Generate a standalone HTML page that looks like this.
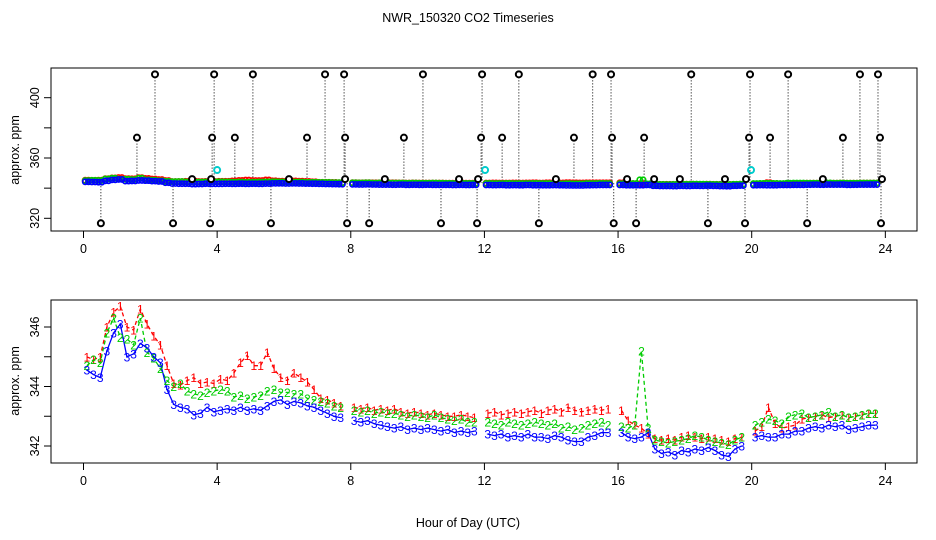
<!DOCTYPE html>
<html><head><meta charset="utf-8">
<style>
html,body{margin:0;padding:0;background:#fff;}
svg{display:block;font-family:"Liberation Sans",sans-serif;}
</style></head>
<body>
<svg id="chart" width="936" height="540" viewBox="0 0 936 540" xmlns="http://www.w3.org/2000/svg">
<text x="468" y="22" font-size="12.5" text-anchor="middle">NWR_150320  CO2 Timeseries</text>
<rect x="51" y="68" width="866" height="163" fill="none" stroke="#000" stroke-width="1"/>
<rect x="51" y="300" width="866" height="163" fill="none" stroke="#000" stroke-width="1"/>
<text transform="translate(19,150) rotate(-90)" font-size="12.5" text-anchor="middle">approx. ppm</text>
<text transform="translate(19,381) rotate(-90)" font-size="12.5" text-anchor="middle">approx. ppm</text>
<text x="468" y="527" font-size="12.5" text-anchor="middle">Hour of Day (UTC)</text>
<g id="topAxes"></g>
<g id="botAxes"></g>
<g id="topMarks"></g>
<g id="botMarks"></g>
</svg>
<script>
const xTicks = [0,4,8,12,16,20,24];
const topYTicks = [320,340,360,380,400];
const topYLabels = ["320","","360","","400"];
const botYTicks = [342,343,344,345,346];
const botYLabels = ["342","","344","","346"];
const t0 = 0.1, dt = 0.2;
const s3 = [344.55,344.4,344.3,345.2,345.8,346.1,345.0,345.1,345.45,345.3,345.0,344.8,343.9,343.4,343.3,343.25,343.05,343.1,343.3,343.15,343.2,343.25,343.2,343.3,343.2,343.25,343.2,343.35,343.5,343.55,343.4,343.5,343.45,343.35,343.3,343.2,343.1,343.0,342.95,null,342.85,342.8,342.85,342.75,342.7,342.65,342.6,342.65,342.55,342.6,342.55,342.6,342.55,342.5,342.55,342.45,342.5,342.45,342.5,null,342.4,342.35,342.4,342.3,342.35,342.3,342.4,342.3,342.3,342.25,342.35,342.3,342.2,342.15,342.15,342.3,342.35,342.45,342.45,null,342.45,342.3,342.25,342.3,342.45,341.9,341.75,341.8,341.7,341.85,341.8,341.9,341.85,341.95,341.85,341.7,341.65,341.9,342.0,null,342.3,342.35,342.3,342.3,342.4,342.4,342.5,342.5,342.6,342.65,342.6,342.7,342.65,342.7,342.55,342.6,342.65,342.7,342.7];
const s2 = [344.7,344.9,344.8,345.8,346.3,345.65,345.6,345.4,346.3,345.15,344.95,344.6,344.2,344.0,344.1,343.85,343.75,343.7,343.8,343.85,343.9,343.85,343.65,343.7,343.6,343.65,343.7,343.85,343.9,343.8,343.8,343.75,343.75,343.6,343.55,343.5,343.45,343.35,343.3,null,343.2,343.15,343.2,343.1,343.15,343.1,343.1,343.05,343.0,343.05,343.0,342.95,343.05,342.95,342.9,342.85,342.9,342.8,342.8,null,342.8,342.75,342.7,342.8,342.75,342.7,342.75,342.8,342.75,342.7,342.75,342.6,342.65,342.55,342.6,342.7,342.75,342.8,342.7,null,342.65,342.6,342.7,345.2,342.6,342.2,342.15,342.1,342.15,342.2,342.25,342.35,342.3,342.2,342.15,342.1,342.05,342.2,342.3,null,342.7,342.8,342.9,342.85,342.75,343.0,343.05,343.1,342.95,343.0,343.05,343.15,343.0,343.05,342.95,343.0,343.05,343.1,343.1];
const s1 = [345.0,344.9,345.0,346.0,346.5,346.7,346.0,345.9,346.6,346.1,345.7,345.4,344.7,344.1,344.05,344.2,344.3,344.1,344.15,344.1,344.25,344.2,344.45,344.8,345.05,344.7,344.7,345.15,344.6,344.3,344.2,344.45,344.3,344.15,343.9,343.6,343.55,343.45,343.35,null,343.3,343.25,343.3,343.2,343.25,343.2,343.25,343.15,343.1,343.15,343.1,343.05,343.1,343.05,343.0,343.0,343.05,343.0,342.95,null,343.1,343.15,343.05,343.1,343.15,343.1,343.15,343.2,343.1,343.2,343.25,343.15,343.3,343.2,343.15,343.2,343.25,343.2,343.25,null,343.2,342.85,342.7,342.6,342.4,342.25,342.2,342.25,342.2,342.3,342.35,342.3,342.25,342.3,342.25,342.2,342.15,342.25,342.3,null,342.5,342.65,343.3,342.75,342.6,342.65,342.7,342.9,342.95,343.0,343.05,342.95,343.0,343.05,342.95,343.0,343.05,343.1,343.1];
const outHours = [2.14,3.91,5.07,7.23,7.80,10.16,11.93,13.03,15.24,15.79,18.19,19.95,21.09,23.24,23.78,
 1.60,3.85,4.53,6.69,7.83,9.59,11.90,12.53,14.68,15.82,16.78,19.92,20.55,22.73,23.84,
 0.52,2.68,3.79,5.61,7.89,8.55,10.70,11.78,13.63,15.87,16.54,18.69,19.80,21.66,23.87,
 3.25,3.82,6.15,7.83,9.02,11.24,11.81,14.14,16.27,17.08,17.85,19.20,19.83,22.13,23.90];
const outValues = [415.5,415.5,415.5,415.5,415.5,415.5,415.5,415.5,415.5,415.5,415.5,415.5,415.5,415.5,415.5,
 373.5,373.5,373.5,373.5,373.5,373.5,373.5,373.5,373.5,373.5,373.5,373.5,373.5,373.5,373.5,
 316.7,316.7,316.7,316.7,316.7,316.7,316.7,316.7,316.7,316.7,316.7,316.7,316.7,316.7,316.7,
 346,346,346,346,346,346,346,346,346,346,346,346,346,346,346];
const cyanHours = [4.00,12.02,19.98];
const cyanValues = [352,352,352];

const NS = "http://www.w3.org/2000/svg";
function X(h){ return 83.5 + h*33.41; }
function YT(v){ return 218.3 - (v-320)*1.5075; }
function YB(v){ return 446 - (v-342)*29.75; }
function mk(tag, attrs, parent){ const e=document.createElementNS(NS,tag); for(const k in attrs) e.setAttribute(k,attrs[k]); parent.appendChild(e); return e; }

function axes(g, yTop, yScale, yTicks, yLabels, baseY, nameP){
  mk('line',{x1:X(0),x2:X(24),y1:baseY,y2:baseY,stroke:'#000'},g);
  xTicks.forEach(t=>{
    const l=mk('line',{x1:X(t),x2:X(t),y1:baseY,y2:baseY+7,stroke:'#000'},g);
    
    
    const tx=mk('text',{x:X(t),y:baseY+22,'font-size':12.5,'text-anchor':'middle'},g);
    tx.textContent=t;
    
    
  });
  mk('line',{x1:51,x2:51,y1:yScale(yTicks[0]),y2:yScale(yTicks[yTicks.length-1]),stroke:'#000'},g);
  yTicks.forEach((v,i)=>{
    const y=yScale(v);
    const l=mk('line',{x1:44,x2:51,y1:y,y2:y,stroke:'#000'},g);
    
    
    if(yLabels[i]){
      const tx=mk('text',{transform:`translate(39,${y}) rotate(-90)`,'font-size':12.5,'text-anchor':'middle'},g);
      tx.textContent=yLabels[i];
      
      
    }
  });
}
axes(document.getElementById('topAxes'), 68, YT, topYTicks, topYLabels, 231, 'top');
axes(document.getElementById('botAxes'), 300, YB, botYTicks, botYLabels, 463, 'bottom');

// top panel
const tg=document.getElementById('topMarks');
outHours.forEach((h,i)=>{
  const v=outValues[i];
  const ln=mk('line',{x1:X(h),x2:X(h),y1:YT(v),y2:YT(343.5),stroke:'#000','stroke-width':1,'stroke-dasharray':'1,2'},tg);
  
  
});
[[s1,'#f00'],[s2,'#0c0'],[s3,'#00f']].forEach(([s,c],k)=>{
  s.forEach((v,i)=>{
    if(v===null) return;
    const h=t0+dt*i;
    for(const off of [-0.05,0.05]){
      const p=mk('circle',{cx:X(h+off),cy:YT(v)+(k===2?0.5:-0.5),r:2.6,fill:'none',stroke:c,'stroke-width':1.6},tg);
      
      
    }
  });
});
outHours.forEach((h,i)=>{
  const c=mk('circle',{cx:X(h),cy:YT(outValues[i]),r:3,fill:'#fff',stroke:'#000','stroke-width':2},tg);
  
  
});
cyanHours.forEach((h,i)=>{
  const c=mk('circle',{cx:X(h),cy:YT(cyanValues[i]),r:3,fill:'none',stroke:'#0cc','stroke-width':2},tg);
  
  
});

// bottom panel
const bg=document.getElementById('botMarks');
[[s1,'#f00','1','4,3'],[s2,'#0c0','2','4,3'],[s3,'#00f','3','none']].forEach(([s,c,lab,dash])=>{
  let d='', pen=false;
  s.forEach((v,i)=>{
    if(v===null){pen=false;return;}
    const h=t0+dt*i;
    d+=(pen?'L':'M')+X(h).toFixed(1)+' '+YB(v).toFixed(1)+' ';
    pen=true;
  });
  const p=mk('path',{d:d,fill:'none',stroke:c,'stroke-width':1.3,'stroke-dasharray':dash},bg);
  
  
});
[[s1,'#f00','1'],[s2,'#0c0','2'],[s3,'#00f','3']].forEach(([s,c,lab])=>{
  s.forEach((v,i)=>{
    if(v===null) return;
    const h=t0+dt*i;
    const t=mk('text',{x:X(h),y:YB(v)+4.5,'font-size':12,'text-anchor':'middle',fill:c},bg);
    t.textContent=lab;
    
    
  });
});
</script>
</body></html>
